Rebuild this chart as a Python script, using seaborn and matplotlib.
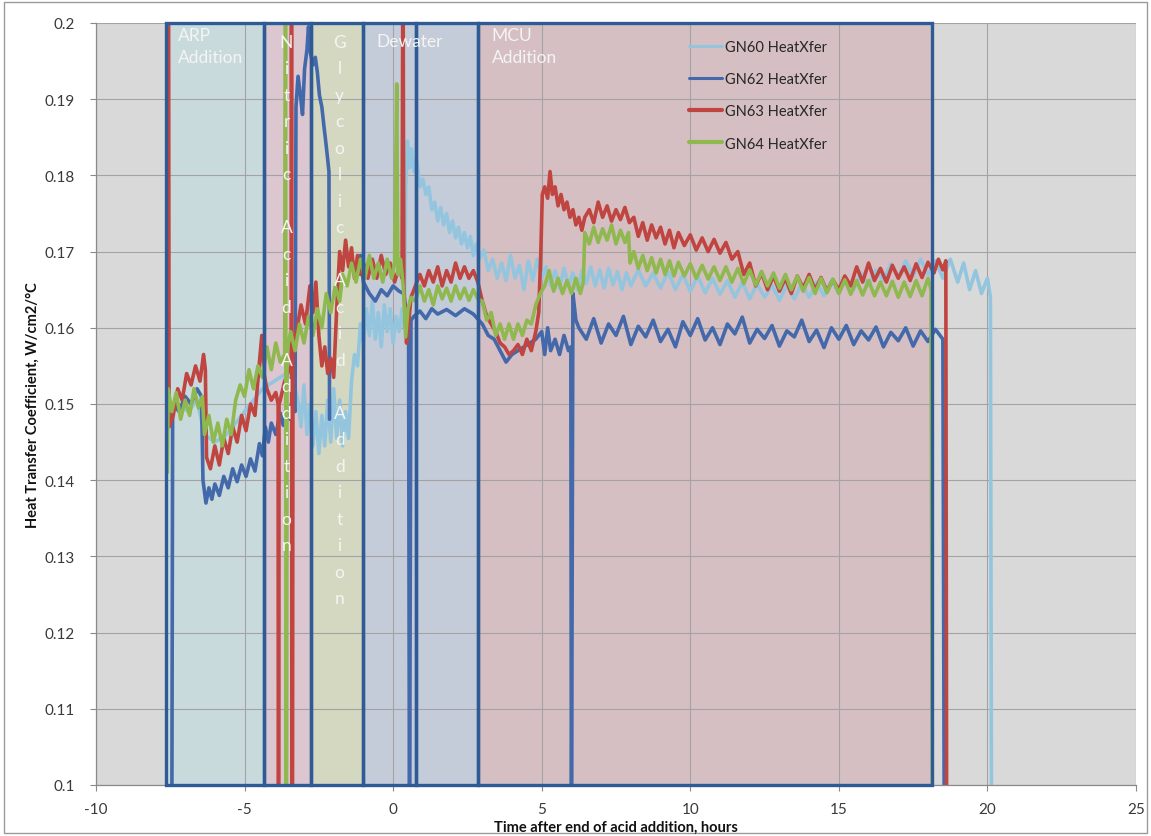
import numpy as np
import pandas as pd
import matplotlib
matplotlib.use("Agg")
import matplotlib.pyplot as plt
import seaborn as sns
from matplotlib.patches import Rectangle
from matplotlib.lines import Line2D

sns.set_theme(style="white")
plt.rcParams["font.family"] = ["Lato", "DejaVu Sans"]

nan = float("nan")

# ---- heat transfer traces: (hours after end of acid addition, W/cm2/C) ----
gn60 = [(-7.5, .149), (-7.2, .150), (-6.9, .149), (-6.6, .1505), (-6.35, .146), (-6.0, .145),
        (-5.6, .146), (-5.2, .148), (-4.8, .150), (-4.4, .152), (-4.0, .153), (-3.6, .154),
        (-3.3, .152), (-3.2, .1505), (-3.1, .147), (-3.0, .1525), (-2.9, .146), (-2.8, .150),
        (-2.7, .1445), (-2.6, .149), (-2.5, .1435), (-2.4, .1485), (-2.3, .1445), (-2.2, .1505),
        (-2.1, .145), (-2.0, .152), (-1.9, .1455), (-1.8, .1505), (-1.7, .1445), (-1.6, .149),
        (-1.5, .1455), (-1.4, .153), (-1.3, .1565), (-1.2, .155), (-1.1, .1605), (-1.0, .158),
        (-0.9, .1625), (-0.8, .159), (-0.7, .1635), (-0.6, .1585), (-0.5, .162), (-0.4, .1575),
        (-0.3, .163), (-0.2, .1595), (-0.1, .1625), (0.0, .158), (0.1, .1615), (0.2, .1595),
        (0.3, .1625), (0.38, .160), (0.42, .178), (0.48, .1845), (0.55, .181), (0.62, .1835),
        (0.7, .1805), (0.8, .182), (0.9, .1785), (1.0, .1795), (1.1, .1775), (1.2, .1785),
        (1.3, .1755), (1.4, .1765), (1.5, .174), (1.6, .1758), (1.7, .1735), (1.8, .175),
        (1.9, .1725), (2.0, .174), (2.1, .1718), (2.2, .1732), (2.3, .171), (2.4, .1725),
        (2.5, .1705), (2.6, .172), (2.7, .1695), (2.8, .171), (2.9, .169), (3.05, .1702),
        (3.2, .1675), (3.35, .169), (3.5, .1665), (3.65, .1685), (3.8, .1662), (3.95, .1695),
        (4.1, .1665), (4.25, .1682), (4.4, .1650), (4.55, .1688), (4.7, .1662), (4.85, .1690),
        (5.0, .1665), (5.15, .1680), (5.3, .1655), (5.45, .1675), (5.6, .1652), (5.75, .1678),
        (5.9, .1655), (6.05, .1672), (6.2, .1650), (6.35, .1675), (6.5, .1658), (6.65, .1680),
        (6.8, .1655), (6.95, .1676), (7.1, .1652), (7.25, .1678), (7.4, .1656), (7.55, .1674),
        (7.7, .1650), (7.85, .1672), (8.0, .1655), (8.25, .1676), (8.5, .1655), (8.75, .1672),
        (9.0, .1652), (9.25, .1674), (9.5, .1650), (9.75, .1670), (10.0, .1648), (10.25, .1668),
        (10.5, .1646), (10.75, .1665), (11.0, .1644), (11.25, .1662), (11.5, .1640), (11.75, .1660),
        (12.0, .1638), (12.25, .1658), (12.5, .1640), (12.75, .1656), (13.0, .1636), (13.25, .1656),
        (13.5, .1638), (13.75, .1658), (14.0, .1640), (14.25, .1660), (14.5, .1642), (14.75, .1662),
        (15.0, .1645), (15.25, .1665), (15.5, .1650), (15.75, .1672), (16.0, .1655), (16.25, .1676),
        (16.5, .1662), (16.75, .1684), (17.0, .1666), (17.25, .1688), (17.5, .1668), (17.75, .1690),
        (18.0, .1670), (18.25, .1688), (18.5, .1665), (18.75, .1690), (19.0, .1660), (19.2, .1685),
        (19.4, .1650), (19.6, .1675), (19.8, .1645), (20.0, .1665), (20.1, .1640), (20.14, .090)]

gn62 = [(-7.45, .090), (-7.42, .150), (-7.2, .149), (-7.0, .151), (-6.8, .150), (-6.6, .152),
        (-6.45, .151), (-6.4, .140), (-6.3, .137), (-6.2, .139), (-6.1, .1375), (-6.0, .1395),
        (-5.85, .138), (-5.7, .1405), (-5.55, .139), (-5.4, .1415), (-5.25, .1398), (-5.1, .142),
        (-4.95, .1405), (-4.8, .1428), (-4.65, .1412), (-4.5, .1448), (-4.4, .1432), (-4.3, .147),
        (-4.2, .145), (-4.1, .1475), (-3.95, .146), (-3.8, .1488), (-3.7, .1472), (-3.6, .1495),
        (-3.5, .148), (-3.4, .1505), (-3.3, .149), (-3.27, .189), (-3.2, .193), (-3.12, .1905),
        (-3.05, .188), (-2.98, .194), (-2.9, .1965), (-2.85, .1995), (-2.78, .196), (-2.7, .1945),
        (-2.62, .1955), (-2.55, .1935), (-2.48, .1905), (-2.4, .189), (-2.33, .1865), (-2.27, .1845),
        (-2.2, .182), (-2.16, .1805), (-2.14, .148), (-2.13, nan),
        (-1.1, .1695), (-1.0, .166), (-0.8, .1645), (-0.6, .1635), (-0.4, .165), (-0.2, .1642),
        (0.0, .1655), (0.2, .1648), (0.35, .1645), (0.45, .162), (0.52, .158), (0.55, .090),
        (0.6, .161), (0.7, .1615), (0.9, .1622), (1.1, .1612), (1.3, .1625), (1.5, .1618),
        (1.8, .1624), (2.1, .1616), (2.4, .1625), (2.7, .1618), (3.0, .1605), (3.2, .159),
        (3.4, .1585), (3.6, .157), (3.8, .1555), (4.0, .1565), (4.2, .157), (4.4, .1575),
        (4.6, .158), (4.8, .1585), (5.0, .1595), (5.1, .1565), (5.2, .160), (5.3, .157),
        (5.45, .1585), (5.6, .1565), (5.75, .159), (5.9, .157), (5.98, .1575), (6.0, .090),
        (6.05, .1645), (6.15, .161), (6.25, .1600), (6.5, .1585), (6.75, .1612), (7.0, .1580),
        (7.25, .1605), (7.5, .1590), (7.75, .1615), (8.0, .1578), (8.25, .1602), (8.5, .1588),
        (8.75, .1610), (9.0, .1582), (9.25, .1598), (9.5, .1575), (9.75, .1608), (10.0, .1590),
        (10.25, .1612), (10.5, .1584), (10.75, .1600), (11.0, .1578), (11.25, .1605), (11.5, .1592),
        (11.75, .1614), (12.0, .1580), (12.25, .1598), (12.5, .1586), (12.75, .1603), (13.0, .1576),
        (13.25, .1596), (13.5, .1588), (13.75, .1610), (14.0, .1582), (14.25, .1597), (14.5, .1574),
        (14.75, .1600), (15.0, .1585), (15.25, .1603), (15.5, .1578), (15.75, .1596), (16.0, .1584),
        (16.25, .1601), (16.5, .1575), (16.75, .1594), (17.0, .1583), (17.25, .1600), (17.5, .1576),
        (17.75, .1596), (18.0, .1582), (18.25, .1598), (18.5, .1585), (18.55, .090)]

gn63 = [(-7.56, .215), (-7.54, .147), (-7.4, .1485), (-7.25, .152), (-7.1, .1505), (-6.95, .154),
        (-6.8, .1525), (-6.65, .155), (-6.5, .153), (-6.38, .1565), (-6.32, .1545), (-6.28, .143),
        (-6.15, .1415), (-6.0, .1445), (-5.85, .142), (-5.7, .1455), (-5.55, .1435), (-5.4, .147),
        (-5.25, .145), (-5.1, .1485), (-4.95, .1465), (-4.8, .150), (-4.65, .1485), (-4.5, .1555),
        (-4.42, .159), (-4.35, .154), (-4.25, .152), (-4.1, .1505), (-3.95, .1515), (-3.87, .150),
        (-3.86, .050), (-3.84, .150), (-3.8, .1505), (-3.65, .153), (-3.5, .1545), (-3.43, .155),
        (-3.42, .220), (-3.4, .050), (-3.37, .158), (-3.25, .1595), (-3.1, .163), (-2.95, .1605),
        (-2.8, .1655), (-2.7, .162), (-2.6, .166), (-2.5, .159), (-2.4, .155), (-2.3, .1575),
        (-2.2, .154), (-2.1, .156), (-2.0, .1535), (-1.9, .1625), (-1.8, .170), (-1.7, .1675),
        (-1.6, .1715), (-1.5, .168), (-1.4, .1705), (-1.3, .1665), (-1.2, .1695), (-1.1, .167),
        (-1.0, .1685), (-0.85, .1665), (-0.7, .169), (-0.55, .1665), (-0.4, .1695), (-0.25, .167),
        (-0.1, .1685), (0.05, .166), (0.2, .168), (0.3, .1665), (0.33, .215), (0.36, .1655),
        (0.45, .158), (0.52, .1605), (0.6, .164), (0.75, .1655), (0.9, .167), (1.05, .1655),
        (1.2, .1675), (1.35, .166), (1.5, .168), (1.65, .1655), (1.8, .1675), (1.95, .166),
        (2.1, .1685), (2.25, .1665), (2.4, .168), (2.55, .1665), (2.7, .1675), (2.85, .166),
        (3.0, .1635), (3.15, .1615), (3.3, .1605), (3.45, .1595), (3.6, .158), (3.75, .1575),
        (3.9, .1565), (4.05, .157), (4.2, .1578), (4.35, .1565), (4.5, .1585), (4.65, .157),
        (4.8, .1595), (4.9, .162), (4.97, .170), (5.02, .1775), (5.1, .1785), (5.2, .177),
        (5.28, .1805), (5.36, .1775), (5.45, .1785), (5.55, .176), (5.65, .1775), (5.75, .1755),
        (5.85, .1765), (5.95, .1745), (6.05, .1755), (6.15, .1735), (6.25, .1745), (6.35, .1728),
        (6.45, .1745), (6.6, .1755), (6.75, .1738), (6.9, .1765), (7.05, .1745), (7.2, .176),
        (7.35, .174), (7.5, .1755), (7.65, .1742), (7.8, .1758), (7.95, .1738), (8.1, .1745),
        (8.25, .172), (8.4, .1738), (8.55, .1715), (8.7, .1735), (8.85, .1718), (9.0, .1732),
        (9.15, .171), (9.3, .1728), (9.45, .1705), (9.6, .1725), (9.8, .1708), (10.0, .1722),
        (10.2, .1702), (10.4, .1718), (10.6, .1700), (10.8, .1716), (11.0, .1698), (11.2, .1712),
        (11.4, .1690), (11.6, .1700), (11.8, .1670), (12.0, .1685), (12.2, .1655), (12.4, .1672),
        (12.6, .1650), (12.8, .1668), (13.0, .1648), (13.2, .1665), (13.4, .1645), (13.6, .1668),
        (13.8, .1652), (14.0, .1670), (14.2, .1650), (14.4, .1666), (14.6, .1648), (14.8, .1663),
        (15.0, .1650), (15.2, .1668), (15.4, .1655), (15.6, .1680), (15.8, .1660), (16.0, .1685),
        (16.2, .1662), (16.4, .1678), (16.6, .1660), (16.8, .1682), (17.0, .1665), (17.2, .1680),
        (17.4, .1662), (17.6, .1684), (17.8, .1666), (18.0, .1686), (18.2, .1672), (18.35, .1690),
        (18.5, .1676), (18.6, .1688), (18.63, .090)]

gn64 = [(-7.6, .141), (-7.57, .152), (-7.45, .149), (-7.3, .1515), (-7.15, .148), (-7.0, .1505),
        (-6.85, .1485), (-6.7, .152), (-6.55, .1495), (-6.42, .151), (-6.35, .146), (-6.2, .1485),
        (-6.05, .145), (-5.9, .1475), (-5.75, .1445), (-5.6, .148), (-5.45, .146), (-5.3, .1505),
        (-5.15, .1525), (-5.0, .151), (-4.85, .1545), (-4.7, .152), (-4.55, .155), (-4.4, .1535),
        (-4.25, .1575), (-4.1, .1545), (-3.95, .158), (-3.8, .1555), (-3.65, .1565), (-3.62, .215),
        (-3.6, .050), (-3.57, .157), (-3.45, .1595), (-3.3, .157), (-3.15, .1605), (-3.0, .158),
        (-2.85, .1615), (-2.7, .159), (-2.55, .1625), (-2.4, .160), (-2.25, .1645), (-2.1, .162),
        (-1.95, .1655), (-1.8, .1635), (-1.7, .167), (-1.55, .1655), (-1.4, .1685), (-1.25, .166),
        (-1.1, .169), (-0.95, .1665), (-0.8, .1695), (-0.65, .1665), (-0.5, .1685), (-0.35, .166),
        (-0.2, .169), (-0.05, .1665), (0.05, .1685), (0.12, .192), (0.16, .167), (0.25, .169),
        (0.35, .165), (0.42, .1588), (0.5, .1625), (0.6, .164), (0.75, .1635), (0.9, .1655),
        (1.05, .1635), (1.2, .165), (1.35, .163), (1.5, .1655), (1.65, .1638), (1.8, .1652),
        (1.95, .1635), (2.1, .1655), (2.25, .1638), (2.4, .1652), (2.55, .1636), (2.7, .165),
        (2.85, .1638), (3.0, .1635), (3.15, .161), (3.3, .162), (3.45, .159), (3.6, .1605),
        (3.75, .1585), (3.9, .1605), (4.05, .1585), (4.2, .1605), (4.35, .159), (4.5, .161),
        (4.65, .1605), (4.8, .163), (4.95, .1645), (5.1, .1655), (5.25, .1675), (5.4, .1648),
        (5.55, .1665), (5.7, .1645), (5.85, .1662), (6.0, .1645), (6.15, .1665), (6.3, .1645),
        (6.4, .166), (6.45, .1725), (6.6, .171), (6.75, .1732), (6.9, .1712), (7.05, .173),
        (7.2, .1715), (7.35, .1735), (7.5, .171), (7.65, .1728), (7.8, .1712), (7.92, .1725),
        (7.97, .1685), (8.1, .1700), (8.25, .1678), (8.4, .1695), (8.55, .1675), (8.7, .1692),
        (8.85, .1672), (9.0, .169), (9.15, .167), (9.3, .1688), (9.45, .1668), (9.6, .1686),
        (9.8, .1668), (10.0, .1684), (10.2, .1665), (10.4, .1682), (10.6, .1664), (10.8, .1680),
        (11.0, .1662), (11.2, .1680), (11.4, .1660), (11.6, .1678), (11.8, .1658), (12.0, .1676),
        (12.2, .1656), (12.4, .1674), (12.6, .1655), (12.8, .1672), (13.0, .1652), (13.2, .1670),
        (13.4, .1650), (13.6, .1668), (13.8, .1648), (14.0, .1666), (14.2, .1645), (14.4, .1665),
        (14.6, .1646), (14.8, .1664), (15.0, .1645), (15.2, .1663), (15.4, .1644), (15.6, .1662),
        (15.8, .1643), (16.0, .1662), (16.2, .1642), (16.4, .1660), (16.6, .1642), (16.8, .1661),
        (17.0, .1640), (17.2, .1660), (17.4, .1641), (17.6, .1662), (17.8, .1642), (18.0, .1665),
        (18.1, .1650), (18.15, .090)]

series_names = ["GN60 HeatXfer", "GN62 HeatXfer", "GN63 HeatXfer", "GN64 HeatXfer"]
series_data = [gn60, gn62, gn63, gn64]
series_colors = ["#93c6de", "#4469ab", "#c0443f", "#8fb84f"]

# ---- process phases (start, end in hours) ----
phase_labels = ["ARP\nAddition", "Nitric Acid Addition", "Glycolic Acid Addition",
                "Dewater", "", "MCU\nAddition"]
phase_bounds = [(-7.66, -4.35), (-4.35, -2.75), (-2.75, -1.02), (-1.02, 0.76),
                (0.76, 2.84), (2.84, 18.13)]
phase_fills = ["#c9dadd", "#dcc6d0", "#d4d8c1", "#c5ccd9", "#c5ccd9", "#d5bfc3"]

x_ticks = [-10, -5, 0, 5, 10, 15, 20, 25]
y_ticks = [0.1, 0.11, 0.12, 0.13, 0.14, 0.15, 0.16, 0.17, 0.18, 0.19, 0.2]

# ---- assemble long-form table; NaN marks a break in a trace ----
frames = []
for name, pts in zip(series_names, series_data):
    df = pd.DataFrame(pts, columns=["t", "v"])
    df["seg"] = df["v"].isna().cumsum()
    df = df.dropna()
    df["series"] = name
    df["unit"] = name + "_" + df["seg"].astype(str)
    frames.append(df)
data = pd.concat(frames, ignore_index=True)

W, H = 1151, 837
fig = plt.figure(figsize=(W / 100, H / 100), dpi=100)
fig.patch.set_facecolor("white")
ax = fig.add_axes([96 / W, 1 - 786 / H, (1136 - 96) / W, (786 - 24) / H])
ax.set_facecolor("#d9d9d9")
ax.set_axisbelow(True)
ax.grid(True, color="#a3a3a3", lw=0.8)

# phase shading under the grid
for (x0, x1), fc in zip(phase_bounds, phase_fills):
    ax.add_patch(Rectangle((x0, 0.1), x1 - x0, 0.1, facecolor=fc, edgecolor="none", zorder=0.3))

sns.lineplot(data=data, x="t", y="v", hue="series", hue_order=series_names,
             palette=dict(zip(series_names, series_colors)), units="unit",
             estimator=None, sort=False, lw=2.6, legend=False, ax=ax, zorder=2)

# phase outlines on top of the traces
for (x0, x1) in phase_bounds:
    ax.add_patch(Rectangle((x0, 0.1), x1 - x0, 0.1, fill=False, edgecolor="#2e5a96",
                           lw=2.4, zorder=4, clip_on=False))

ax.set_xlim(-10, 25)
ax.set_ylim(0.1, 0.2)
ax.set_xticks(x_ticks)
ax.set_yticks(y_ticks)
ax.set_xticklabels([f"{v:g}" for v in x_ticks])
ax.set_yticklabels([f"{v:g}" for v in y_ticks])
ax.set_xlabel("")
ax.set_ylabel("")
for s in ["top", "right"]:
    ax.spines[s].set_visible(False)
for s in ["left", "bottom"]:
    ax.spines[s].set_color("#8a8a8a")
    ax.spines[s].set_linewidth(0.9)
ax.tick_params(axis="both", which="both", bottom=True, left=True, direction="out",
               length=4, width=0.8, color="#8a8a8a", labelsize=11, labelcolor="#3a3a3a")
ax.tick_params(axis="y", pad=11)
ax.tick_params(axis="x", pad=8)

# phase names
txt_kw = dict(color="#f4f4f4", fontsize=12.5, zorder=6)
ax.text(-7.24, 0.1995, phase_labels[0], ha="left", va="top", linespacing=1.45, **txt_kw)
ax.text(-0.56, 0.1977, phase_labels[3], ha="left", va="center", **txt_kw)
ax.text(3.32, 0.1995, phase_labels[5], ha="left", va="top", linespacing=1.45, **txt_kw)
for label, xc in [(phase_labels[1], -3.59), (phase_labels[2], -1.80)]:
    for i, ch in enumerate(label):
        if ch == " ":
            continue
        ax.annotate(ch, xy=(xc, 0.2), xytext=(0, -19 - 26.5 * i), textcoords="offset pixels",
                    ha="center", va="center", **txt_kw)

handles = [Line2D([0], [0], color=c, lw=lw) for c, lw in zip(series_colors, [2.2, 2.2, 3.0, 3.0])]
leg = ax.legend(handles, series_names, loc="upper left",
                bbox_to_anchor=(683 / W, 1 - 35 / H), bbox_transform=fig.transFigure,
                frameon=False, fontsize=10.5, handlelength=2.3, handletextpad=0.2,
                labelspacing=1.25, borderaxespad=0)
leg.set_zorder(7)
for t in leg.get_texts():
    t.set_color("#262626")

fig.text(616 / W, 1 - 828 / H, "Time after end of acid addition, hours",
         ha="center", va="center", fontsize=10.5, fontweight="bold", color="#111111")
fig.text(33 / W, 1 - 405 / H, "Heat Transfer Coefficient, W/cm2/°C", rotation=90,
         ha="center", va="center", fontsize=10.5, fontweight="bold", color="#111111")

fig.add_artist(Rectangle((4 / W, 3 / H), 1 - 8 / W, 1 - 6 / H, transform=fig.transFigure,
                         fill=False, edgecolor="#9a9a9a", lw=1.0))

fig.savefig("out.png", dpi=100)
